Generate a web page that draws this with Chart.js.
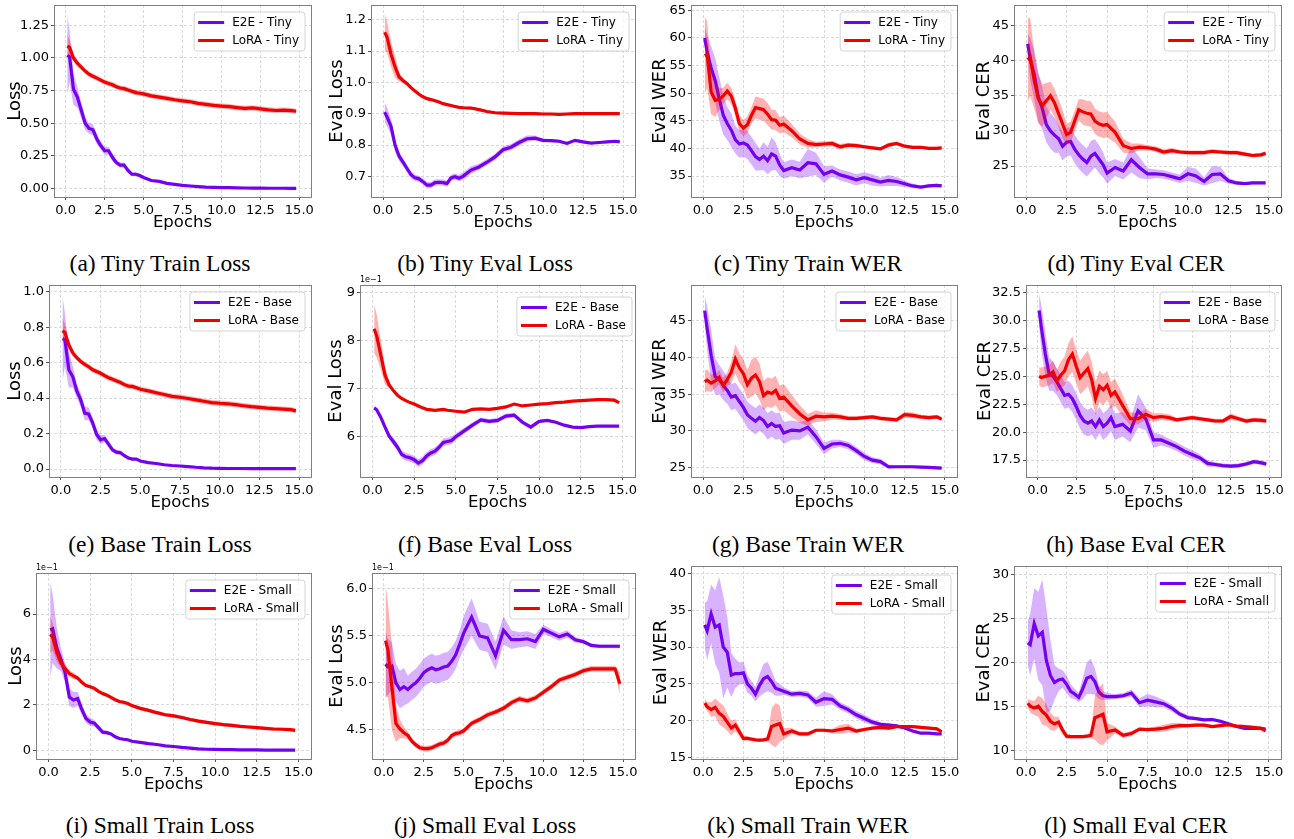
<!DOCTYPE html>
<html>
<head>
<meta charset="utf-8">
<script src="https://cdn.jsdelivr.net/npm/chart.js@4.4.1/dist/chart.umd.min.js"></script>
<style>
  body { margin: 0; background: #fff; width: 1294px; height: 839px; position: relative; overflow: hidden; }
  canvas { position: absolute; }
  .cap { position: absolute; font-family: 'Liberation Serif', 'Times New Roman', serif; font-size: 23.5px;
         line-height: 24px; color: #000; white-space: nowrap; transform: translateX(-50%); }
</style>
</head>
<body>
<script>
// ---- data ----
const epochs = [0.1, 0.25, 0.5, 0.75, 1.0, 1.25, 1.5, 1.75, 2.0, 2.25, 2.5, 2.75, 3.0, 3.25, 3.5, 3.75, 4.0, 4.25, 4.5, 4.75,
  5.0, 5.5, 6.0, 6.5, 7.0, 7.5, 8.0, 8.5, 9.0, 9.5, 10.0, 10.5, 11.0, 11.5, 12.0, 12.5, 13.0, 13.5, 14.0, 14.5, 14.8];
const xTicks = [0, 2.5, 5, 7.5, 10, 12.5, 15];

// Tiny
const tinyTrainE2E = [1.02, 1.01, 0.76, 0.70, 0.60, 0.50, 0.46, 0.45, 0.38, 0.33, 0.29, 0.29, 0.24, 0.20, 0.18, 0.18, 0.14, 0.11, 0.11, 0.10,
  0.085, 0.062, 0.055, 0.04, 0.033, 0.025, 0.02, 0.016, 0.012, 0.01, 0.008, 0.007, 0.006, 0.005, 0.004, 0.004, 0.003, 0.003, 0.003, 0.002, 0.002];
const tinyTrainE2ESd = [0.3, 0.2, 0.12, 0.08, 0.06, 0.05, 0.04, 0.04, 0.04, 0.03, 0.03, 0.03, 0.03, 0.02, 0.02, 0.02, 0.02, 0.015, 0.015, 0.015,
  0.01, 0.008, 0.007, 0.006, 0.005, 0.004, 0.003, 0.003, 0.002, 0.002, 0.002, 0.001, 0.001, 0.001, 0.001, 0.001, 0.001, 0.001, 0.001, 0.001, 0.001];
const tinyTrainLora = [1.09, 1.08, 1.0, 0.96, 0.93, 0.9, 0.875, 0.86, 0.845, 0.83, 0.815, 0.805, 0.795, 0.78, 0.77, 0.765, 0.755, 0.745, 0.735, 0.73,
  0.725, 0.71, 0.70, 0.69, 0.68, 0.672, 0.665, 0.652, 0.645, 0.637, 0.632, 0.627, 0.62, 0.614, 0.618, 0.61, 0.603, 0.598, 0.6, 0.597, 0.592];
const tinyTrainLoraSd = [0.09, 0.06, 0.03, 0.025, 0.02, 0.02, 0.02, 0.02, 0.02, 0.02, 0.02, 0.02, 0.02, 0.02, 0.02, 0.02, 0.02, 0.02, 0.02, 0.02,
  0.02, 0.02, 0.02, 0.02, 0.02, 0.02, 0.02, 0.02, 0.02, 0.02, 0.02, 0.02, 0.02, 0.02, 0.02, 0.02, 0.02, 0.02, 0.02, 0.02, 0.02];

const tinyEvalE2E = [0.905, 0.89, 0.86, 0.80, 0.765, 0.745, 0.725, 0.705, 0.695, 0.692, 0.683, 0.672, 0.672, 0.68, 0.681, 0.68, 0.677, 0.695, 0.699, 0.694,
  0.70, 0.72, 0.73, 0.745, 0.762, 0.785, 0.793, 0.808, 0.82, 0.822, 0.815, 0.814, 0.812, 0.805, 0.815, 0.81, 0.806, 0.808, 0.81, 0.812, 0.81];
const tinyEvalE2ESd = [0.03, 0.03, 0.025, 0.02, 0.015, 0.012, 0.012, 0.012, 0.01, 0.01, 0.01, 0.01, 0.01, 0.01, 0.01, 0.01, 0.01, 0.01, 0.01, 0.01,
  0.012, 0.012, 0.01, 0.01, 0.01, 0.01, 0.01, 0.01, 0.01, 0.008, 0.006, 0.005, 0.005, 0.005, 0.004, 0.004, 0.003, 0.003, 0.003, 0.003, 0.003];
const tinyEvalLora = [1.16, 1.145, 1.09, 1.05, 1.018, 1.006, 0.996, 0.983, 0.972, 0.962, 0.954, 0.948, 0.945, 0.941, 0.937, 0.932, 0.929, 0.926, 0.923, 0.92,
  0.919, 0.918, 0.913, 0.907, 0.903, 0.902, 0.901, 0.9, 0.9, 0.9, 0.899, 0.899, 0.898, 0.899, 0.9, 0.9, 0.9, 0.9, 0.9, 0.9, 0.9];
const tinyEvalLoraSd = [0.06, 0.05, 0.04, 0.035, 0.015, 0.008, 0.006, 0.005, 0.004, 0.004, 0.004, 0.004, 0.004, 0.004, 0.004, 0.004, 0.004, 0.004, 0.004, 0.004,
  0.004, 0.004, 0.004, 0.004, 0.004, 0.004, 0.004, 0.004, 0.004, 0.004, 0.004, 0.004, 0.004, 0.004, 0.004, 0.004, 0.004, 0.004, 0.004, 0.004, 0.004];

const tinyWerE2E = [60.0, 57.5, 54.5, 52.3, 49.0, 46.0, 44.5, 43.3, 41.6, 40.8, 41.0, 40.6, 39.6, 38.5, 38.0, 38.6, 37.8, 39.0, 38.6, 37.0,
  36.0, 36.5, 36.1, 37.4, 37.2, 35.3, 35.9, 35.2, 34.8, 34.3, 34.7, 34.3, 33.9, 34.2, 34.0, 33.6, 33.2, 33.0, 33.2, 33.3, 33.2];
const tinyWerE2ESd = [2, 3, 4, 4, 4, 3.5, 3, 3, 2.5, 2.5, 2.5, 2.5, 2.5, 2.5, 2, 2.5, 2.5, 3, 2.5, 2,
  1.5, 1.5, 1.5, 2.5, 2, 1.5, 1, 1, 1, 1, 1, 1, 0.8, 1, 0.8, 0.6, 0.4, 0.3, 0.3, 0.3, 0.3];
const tinyWerLora = [56.8, 57.0, 50.2, 48.7, 48.9, 49.5, 50.4, 49.5, 47.3, 44.5, 43.7, 44.3, 46.0, 47.4, 47.2, 47.0, 46.2, 45.2, 45.1, 44.2,
  44.4, 43.2, 41.7, 40.9, 40.7, 40.8, 40.9, 40.3, 40.6, 40.5, 40.3, 40.1, 39.9, 40.6, 40.9, 40.4, 40.2, 40.2, 40.0, 40.0, 40.1];
const tinyWerLoraSd = [7, 6, 4, 3, 2, 1.5, 1.5, 1.5, 1.5, 1.5, 1.5, 1.5, 1.5, 2, 2, 2, 2, 1.8, 1.8, 1.5,
  1.5, 1.2, 1, 0.8, 0.5, 0.5, 0.5, 0.5, 0.4, 0.4, 0.3, 0.3, 0.3, 0.4, 0.3, 0.3, 0.3, 0.3, 0.3, 0.3, 0.3];

const tinyCerE2E = [42.4, 40.2, 38.0, 34.8, 33.2, 30.9, 30.0, 29.4, 28.9, 27.8, 28.4, 28.5, 27.4, 26.6, 26.0, 25.5, 26.4, 26.8, 26.0, 25.2,
  24.0, 24.8, 24.3, 25.9, 24.8, 23.9, 23.9, 23.8, 23.5, 23.2, 23.9, 23.6, 22.8, 23.8, 23.9, 22.9, 22.6, 22.5, 22.6, 22.6, 22.6];
const tinyCerE2ESd = [1.5, 3, 3.5, 3.5, 3, 2.5, 2.5, 2.5, 2, 2, 2, 2, 2, 2, 2, 2, 2.2, 2, 2, 1.8,
  1.5, 1.2, 1.2, 1.8, 1.5, 0.8, 0.6, 0.6, 0.6, 0.6, 1, 1, 0.6, 1.2, 1, 0.4, 0.3, 0.2, 0.2, 0.2, 0.2];
const tinyCerLora = [40.1, 40.5, 37.2, 34.6, 33.6, 34.3, 35.0, 34.0, 32.5, 31.0, 29.5, 29.8, 31.4, 33.0, 32.7, 32.5, 32.4, 31.4, 31.0, 30.8,
  30.9, 29.8, 27.9, 27.5, 27.7, 27.6, 27.4, 27.0, 27.2, 27.0, 26.9, 26.9, 26.9, 27.1, 27.0, 26.9, 26.9, 26.7, 26.5, 26.6, 26.8];
const tinyCerLoraSd = [6, 5.5, 4, 3.5, 3, 2.5, 2, 2, 2, 2, 1.5, 1.5, 1.5, 1.5, 1.8, 1.8, 1.8, 1.8, 1.8, 1.8,
  1.8, 1.5, 1, 0.7, 0.5, 0.4, 0.4, 0.4, 0.4, 0.3, 0.3, 0.3, 0.3, 0.3, 0.3, 0.3, 0.3, 0.3, 0.3, 0.3, 0.3];

// Base
const baseTrainE2E = [0.735, 0.73, 0.56, 0.52, 0.44, 0.39, 0.315, 0.31, 0.26, 0.195, 0.165, 0.172, 0.14, 0.108, 0.095, 0.092, 0.075, 0.062, 0.056, 0.056,
  0.045, 0.036, 0.031, 0.024, 0.02, 0.017, 0.014, 0.01, 0.007, 0.005, 0.004, 0.003, 0.003, 0.003, 0.002, 0.002, 0.002, 0.002, 0.002, 0.002, 0.002];
const baseTrainE2ESd = [0.24, 0.15, 0.1, 0.06, 0.04, 0.04, 0.04, 0.035, 0.03, 0.03, 0.025, 0.02, 0.02, 0.015, 0.015, 0.012, 0.01, 0.01, 0.008, 0.007,
  0.006, 0.005, 0.004, 0.003, 0.003, 0.002, 0.002, 0.002, 0.001, 0.001, 0.001, 0.001, 0.001, 0.001, 0.001, 0.001, 0.001, 0.001, 0.001, 0.001, 0.001];
const baseTrainLora = [0.78, 0.77, 0.70, 0.655, 0.628, 0.607, 0.59, 0.577, 0.56, 0.55, 0.54, 0.527, 0.515, 0.506, 0.497, 0.488, 0.476, 0.468, 0.466, 0.458,
  0.45, 0.441, 0.43, 0.42, 0.41, 0.405, 0.398, 0.39, 0.382, 0.375, 0.371, 0.368, 0.363, 0.357, 0.352, 0.348, 0.344, 0.341, 0.338, 0.335, 0.328];
const baseTrainLoraSd = [0.07, 0.05, 0.03, 0.02, 0.015, 0.015, 0.015, 0.015, 0.015, 0.015, 0.015, 0.015, 0.015, 0.015, 0.015, 0.015, 0.015, 0.015, 0.015, 0.015,
  0.015, 0.015, 0.015, 0.015, 0.015, 0.015, 0.015, 0.015, 0.015, 0.015, 0.015, 0.015, 0.015, 0.015, 0.015, 0.015, 0.015, 0.015, 0.015, 0.015, 0.015];

const baseEvalE2E = [0.660, 0.656, 0.640, 0.620, 0.601, 0.590, 0.578, 0.563, 0.558, 0.556, 0.552, 0.545, 0.550, 0.560, 0.566, 0.570, 0.578, 0.588, 0.590, 0.592,
  0.600, 0.612, 0.624, 0.635, 0.632, 0.634, 0.643, 0.645, 0.630, 0.620, 0.632, 0.634, 0.630, 0.624, 0.620, 0.619, 0.621, 0.622, 0.622, 0.622, 0.622];
const baseEvalE2ESd = [0.004, 0.004, 0.005, 0.006, 0.007, 0.008, 0.008, 0.008, 0.008, 0.008, 0.008, 0.008, 0.008, 0.008, 0.008, 0.008, 0.008, 0.008, 0.008, 0.008,
  0.007, 0.006, 0.006, 0.005, 0.005, 0.005, 0.005, 0.005, 0.005, 0.005, 0.003, 0.003, 0.002, 0.002, 0.002, 0.002, 0.002, 0.002, 0.002, 0.002, 0.002];
const baseEvalLora = [0.825, 0.81, 0.77, 0.728, 0.708, 0.696, 0.686, 0.680, 0.675, 0.671, 0.668, 0.664, 0.660, 0.657, 0.656, 0.655, 0.656, 0.657, 0.655, 0.654,
  0.653, 0.651, 0.657, 0.658, 0.657, 0.659, 0.662, 0.668, 0.664, 0.666, 0.668, 0.669, 0.671, 0.672, 0.674, 0.675, 0.676, 0.677, 0.677, 0.676, 0.671];
const baseEvalLoraSd = [0.05, 0.045, 0.03, 0.02, 0.006, 0.003, 0.002, 0.002, 0.002, 0.002, 0.002, 0.002, 0.002, 0.002, 0.002, 0.002, 0.002, 0.002, 0.002, 0.002,
  0.002, 0.002, 0.002, 0.002, 0.002, 0.002, 0.002, 0.002, 0.002, 0.002, 0.002, 0.002, 0.002, 0.002, 0.002, 0.002, 0.002, 0.002, 0.002, 0.002, 0.002];

const baseWerE2E = [46.4, 44.0, 40.3, 37.4, 37.0, 36.2, 35.5, 34.6, 34.8, 34.0, 33.2, 32.2, 31.7, 31.3, 31.8, 31.4, 30.6, 31.0, 30.6, 30.7,
  29.7, 30.1, 30.0, 30.5, 29.2, 27.6, 28.2, 28.3, 28.0, 27.3, 26.5, 26.0, 25.8, 25.1, 25.1, 25.1, 25.1, 25.05, 25.0, 24.95, 24.9];
const baseWerE2ESd = [2, 3, 3.5, 2.5, 2, 2, 1.8, 1.8, 1.8, 1.8, 1.8, 1.8, 1.8, 1.8, 1.8, 1.8, 1.8, 1.8, 1.8, 1.8,
  1.5, 1.3, 1.2, 1, 1, 0.8, 0.6, 0.5, 0.5, 0.5, 0.5, 0.4, 0.4, 0.3, 0.2, 0.2, 0.2, 0.2, 0.2, 0.2, 0.2];
const baseWerLora = [36.7, 36.9, 36.5, 36.8, 37.3, 36.2, 37.0, 38.0, 39.8, 38.6, 37.8, 36.3, 37.2, 37.6, 36.7, 34.8, 35.3, 35.1, 35.5, 34.4,
  34.6, 33.4, 32.3, 31.5, 32.0, 31.9, 32.0, 31.9, 31.7, 31.7, 31.8, 31.9, 31.7, 31.6, 31.5, 32.2, 32.1, 31.9, 31.8, 31.9, 31.6];
const baseWerLoraSd = [1.5, 1.5, 1.2, 1, 1, 1, 1, 1.5, 2, 2, 2, 2, 2.5, 2.5, 2.5, 2, 2, 2, 2, 1.8,
  1.8, 1.5, 1.2, 0.8, 0.8, 0.6, 0.5, 0.4, 0.3, 0.3, 0.3, 0.3, 0.3, 0.3, 0.3, 0.4, 0.4, 0.3, 0.3, 0.3, 0.3];

const baseCerE2E = [30.9, 29.3, 27.0, 25.2, 25.0, 24.5, 23.9, 23.3, 23.4, 23.0, 22.3, 21.5, 21.0, 20.8, 21.0, 20.5, 21.1, 20.5, 20.8, 21.3,
  20.5, 20.7, 20.1, 21.9, 21.2, 19.3, 19.3, 19.0, 18.7, 18.3, 18.0, 17.7, 17.2, 17.1, 17.0, 16.95, 17.0, 17.15, 17.35, 17.25, 17.15];
const baseCerE2ESd = [1.5, 2, 2, 1.5, 1.3, 1.2, 1.2, 1.2, 1.2, 1.2, 1.2, 1.2, 1.2, 1.2, 1.2, 1.2, 1.2, 1.2, 1.2, 1.2,
  1.2, 1.1, 1, 1.5, 1, 0.7, 0.5, 0.4, 0.4, 0.4, 0.4, 0.3, 0.3, 0.2, 0.2, 0.2, 0.2, 0.2, 0.2, 0.2, 0.2];
const baseCerLora = [25.0, 24.9, 25.0, 25.1, 25.4, 24.6, 25.1, 25.5, 26.5, 27.0, 25.9, 24.9, 25.3, 25.7, 24.7, 23.0, 24.1, 23.8, 24.2, 23.3,
  23.6, 22.4, 21.2, 21.2, 21.6, 21.3, 21.4, 21.3, 21.1, 21.2, 21.3, 21.2, 21.1, 21.0, 21.0, 21.4, 21.2, 21.0, 21.1, 21.05, 21.0];
const baseCerLoraSd = [0.8, 0.9, 0.9, 0.9, 1, 1, 1.2, 1.3, 1.5, 1.6, 1.5, 1.5, 1.6, 1.6, 1.6, 1.5, 1.4, 1.4, 1.3, 1.2,
  1.2, 1, 0.6, 0.5, 0.5, 0.4, 0.3, 0.3, 0.2, 0.2, 0.2, 0.2, 0.2, 0.2, 0.2, 0.3, 0.2, 0.2, 0.2, 0.2, 0.2];

// Small
const smallTrainE2E = [0.530, 0.535, 0.45, 0.40, 0.34, 0.235, 0.222, 0.228, 0.18, 0.14, 0.125, 0.12, 0.10, 0.08, 0.078, 0.072, 0.06, 0.052, 0.049, 0.047,
  0.04, 0.035, 0.03, 0.026, 0.02, 0.017, 0.013, 0.01, 0.007, 0.005, 0.004, 0.003, 0.003, 0.002, 0.002, 0.002, 0.001, 0.001, 0.001, 0.001, 0.001];
const smallTrainE2ESd = [0.21, 0.15, 0.09, 0.05, 0.04, 0.04, 0.035, 0.03, 0.025, 0.02, 0.018, 0.015, 0.012, 0.01, 0.008, 0.007, 0.006, 0.005, 0.005, 0.004,
  0.004, 0.003, 0.003, 0.002, 0.002, 0.002, 0.001, 0.001, 0.001, 0.001, 0.001, 0.001, 0.001, 0.001, 0.001, 0.001, 0.001, 0.001, 0.001, 0.001, 0.001];
const smallTrainLora = [0.510, 0.50, 0.43, 0.385, 0.36, 0.338, 0.328, 0.318, 0.30, 0.285, 0.28, 0.273, 0.26, 0.25, 0.243, 0.233, 0.223, 0.215, 0.212, 0.206,
  0.197, 0.185, 0.176, 0.166, 0.157, 0.152, 0.145, 0.136, 0.129, 0.123, 0.118, 0.113, 0.11, 0.106, 0.103, 0.10, 0.097, 0.094, 0.093, 0.091, 0.088];
const smallTrainLoraSd = [0.08, 0.06, 0.04, 0.025, 0.02, 0.015, 0.015, 0.008, 0.008, 0.008, 0.008, 0.008, 0.008, 0.008, 0.008, 0.008, 0.008, 0.008, 0.008, 0.008,
  0.008, 0.008, 0.008, 0.008, 0.008, 0.008, 0.008, 0.008, 0.008, 0.008, 0.008, 0.008, 0.008, 0.008, 0.008, 0.008, 0.008, 0.008, 0.008, 0.008, 0.008];

const smallEvalE2E = [0.520, 0.517, 0.518, 0.50, 0.493, 0.496, 0.493, 0.497, 0.50, 0.505, 0.511, 0.514, 0.516, 0.514, 0.515, 0.517, 0.518, 0.523, 0.53, 0.541,
  0.553, 0.570, 0.55, 0.548, 0.529, 0.556, 0.546, 0.546, 0.547, 0.544, 0.557, 0.553, 0.549, 0.552, 0.546, 0.544, 0.540, 0.539, 0.539, 0.539, 0.539];
const smallEvalE2ESd = [0.035, 0.03, 0.025, 0.02, 0.02, 0.02, 0.015, 0.015, 0.015, 0.015, 0.015, 0.015, 0.015, 0.015, 0.015, 0.015, 0.015, 0.015, 0.015, 0.015,
  0.018, 0.02, 0.015, 0.015, 0.015, 0.015, 0.01, 0.008, 0.008, 0.008, 0.005, 0.004, 0.004, 0.004, 0.003, 0.002, 0.002, 0.002, 0.002, 0.002, 0.002];
const smallEvalLora = [0.545, 0.535, 0.495, 0.457, 0.451, 0.447, 0.444, 0.438, 0.434, 0.431, 0.430, 0.430, 0.431, 0.433, 0.435, 0.436, 0.439, 0.444, 0.446, 0.447,
  0.449, 0.457, 0.461, 0.466, 0.469, 0.473, 0.479, 0.483, 0.481, 0.484, 0.490, 0.496, 0.503, 0.506, 0.509, 0.513, 0.515, 0.515, 0.515, 0.515, 0.499];
const smallEvalLoraSd = [0.06, 0.05, 0.045, 0.02, 0.01, 0.006, 0.004, 0.003, 0.003, 0.003, 0.003, 0.003, 0.003, 0.003, 0.003, 0.003, 0.003, 0.003, 0.003, 0.003,
  0.003, 0.003, 0.003, 0.003, 0.003, 0.003, 0.003, 0.003, 0.003, 0.003, 0.003, 0.003, 0.003, 0.003, 0.003, 0.003, 0.003, 0.003, 0.003, 0.003, 0.012];

const smallWerE2E = [33.0, 32.2, 34.5, 32.7, 33.0, 30.0, 29.3, 26.2, 26.4, 26.4, 26.5, 25.0, 24.4, 23.6, 24.8, 25.7, 26.0, 25.3, 24.4, 24.2,
  24.0, 23.6, 23.7, 23.5, 22.5, 23.0, 22.9, 22.0, 21.5, 20.8, 20.3, 19.8, 19.5, 19.4, 19.3, 19.0, 18.6, 18.3, 18.3, 18.2, 18.2];
const smallWerE2ESd = [3, 4, 4, 5, 6.5, 7, 4.8, 3, 2, 1.5, 1.5, 1.2, 1, 1, 1.5, 2, 2, 1.5, 1, 0.8,
  0.5, 0.4, 0.4, 0.5, 0.6, 1, 0.7, 0.5, 0.5, 0.5, 0.5, 0.4, 0.3, 0.3, 0.2, 0.2, 0.2, 0.2, 0.1, 0.1, 0.1];
const smallWerLora = [22.4, 21.9, 21.5, 21.8, 21.0, 20.6, 19.8, 19.0, 19.4, 18.5, 17.6, 17.6, 17.5, 17.4, 17.35, 17.4, 17.5, 19.2, 19.4, 19.6,
  18.2, 18.6, 18.2, 18.2, 18.7, 18.7, 18.6, 18.8, 19.0, 18.6, 18.8, 19.0, 19.1, 19.0, 19.2, 19.2, 19.2, 19.1, 19.0, 18.9, 18.5];
const smallWerLoraSd = [0.6, 0.6, 1, 1.2, 1.5, 1.5, 1.2, 1, 0.8, 0.6, 0.4, 0.3, 0.2, 0.2, 0.2, 0.2, 0.3, 2.5, 3, 2.5,
  0.8, 0.4, 0.3, 0.3, 0.2, 0.2, 0.3, 0.6, 0.6, 0.3, 0.2, 0.2, 0.3, 0.3, 0.2, 0.2, 0.2, 0.2, 0.2, 0.2, 0.2];

const smallCerE2E = [22.2, 22.0, 24.4, 23.0, 23.4, 20.2, 18.5, 17.7, 18.0, 18.1, 17.5, 16.7, 16.4, 16.0, 17.0, 18.2, 18.4, 17.8, 16.6, 16.2,
  16.1, 16.1, 16.2, 16.5, 15.4, 15.7, 15.5, 15.3, 14.8, 14.1, 13.7, 13.6, 13.45, 13.5, 13.3, 13.0, 12.7, 12.5, 12.5, 12.5, 12.4];
const smallCerE2ESd = [2.5, 3.5, 4, 5, 6, 6, 4, 2, 1.3, 1, 1, 0.8, 0.6, 0.5, 1.2, 1.8, 2, 1.5, 0.8, 0.5,
  0.4, 0.3, 0.3, 0.4, 0.5, 0.7, 0.6, 0.4, 0.4, 0.3, 0.3, 0.2, 0.2, 0.2, 0.2, 0.15, 0.1, 0.1, 0.1, 0.1, 0.1];
const smallCerLora = [15.35, 15.0, 14.8, 15.0, 14.4, 14.0, 13.3, 13.0, 13.2, 12.3, 11.6, 11.55, 11.55, 11.55, 11.55, 11.6, 11.7, 13.7, 13.9, 14.1,
  12.1, 12.3, 11.7, 11.9, 12.4, 12.35, 12.4, 12.5, 12.7, 12.8, 12.8, 12.85, 12.85, 12.7, 12.8, 12.9, 12.75, 12.7, 12.6, 12.5, 12.2];
const smallCerLoraSd = [0.5, 0.7, 0.8, 1.2, 1.5, 1.2, 1, 0.8, 0.6, 0.5, 0.3, 0.2, 0.2, 0.2, 0.2, 0.2, 0.3, 2.5, 3.2, 3.5,
  1, 0.4, 0.3, 0.3, 0.2, 0.2, 0.3, 0.4, 0.4, 0.3, 0.2, 0.2, 0.2, 0.2, 0.2, 0.2, 0.2, 0.2, 0.2, 0.2, 0.2];

// tick labels
const tinyTrainTicks = [0, 0.25, 0.5, 0.75, 1.0, 1.25];
const tinyEvalTicks = [0.7, 0.8, 0.9, 1.0, 1.1, 1.2];
const tinyWerTicks = [35, 40, 45, 50, 55, 60, 65];
const tinyCerTicks = [25, 30, 35, 40, 45];
const baseTrainTicks = [0, 0.2, 0.4, 0.6, 0.8, 1.0];
const baseEvalTicks = [0.6, 0.7, 0.8, 0.9];
const baseWerTicks = [25, 30, 35, 40, 45];
const baseCerTicks = [17.5, 20, 22.5, 25, 27.5, 30, 32.5];
const smallTrainTicks = [0, 0.2, 0.4, 0.6];
const smallEvalTicks = [0.45, 0.5, 0.55, 0.6];
const smallWerTicks = [15, 20, 25, 30, 35, 40];
const smallCerTicks = [10, 15, 20, 25, 30];

// ---- styling ----
const PURPLE = '#7400f0', PURPLE_BAND = 'rgba(127,0,255,0.3)';
const RED = '#f00000', RED_BAND = 'rgba(255,0,0,0.3)';
const GRID = '#dadada';
const FONT = 'DejaVu Sans';

const f2 = v => v.toFixed(2), f1 = v => v.toFixed(1), f0 = v => v.toFixed(0);
const x10 = v => (v * 10).toFixed(0), x10f1 = v => (v * 10).toFixed(1);

// geo: [canvasLeft, boxLeft, boxRight, boxTop, boxBottom]
const panels = [
  { cap: '(a) Tiny Train Loss', yTitle: 'Loss', size: 'Tiny', e2e: tinyTrainE2E, e2eSd: tinyTrainE2ESd, lora: tinyTrainLora, loraSd: tinyTrainLoraSd,
    ticks: tinyTrainTicks, yMin: -0.064, yMax: 1.405, fmt: f2, geo: [0, 54, 311, 5, 197], cx: 160, cy: 263 },
  { cap: '(b) Tiny Eval Loss', yTitle: 'Eval Loss', size: 'Tiny', e2e: tinyEvalE2E, e2eSd: tinyEvalE2ESd, lora: tinyEvalLora, loraSd: tinyEvalLoraSd,
    ticks: tinyEvalTicks, yMin: 0.634, yMax: 1.247, fmt: f1, geo: [322, 371, 635, 5, 197], cx: 485, cy: 263 },
  { cap: '(c) Tiny Train WER', yTitle: 'Eval WER', size: 'Tiny', e2e: tinyWerE2E, e2eSd: tinyWerE2ESd, lora: tinyWerLora, loraSd: tinyWerLoraSd,
    ticks: tinyWerTicks, yMin: 31.2, yMax: 65.96, fmt: f0, geo: [645, 691, 957, 5, 197], cx: 808, cy: 263 },
  { cap: '(d) Tiny Eval CER', yTitle: 'Eval CER', size: 'Tiny', e2e: tinyCerE2E, e2eSd: tinyCerE2ESd, lora: tinyCerLora, loraSd: tinyCerLoraSd,
    ticks: tinyCerTicks, yMin: 20.6, yMax: 47.9, fmt: f0, geo: [969, 1014, 1281, 5, 197], cx: 1136, cy: 263 },
  { cap: '(e) Base Train Loss', yTitle: 'Loss', size: 'Base', e2e: baseTrainE2E, e2eSd: baseTrainE2ESd, lora: baseTrainLora, loraSd: baseTrainLoraSd,
    ticks: baseTrainTicks, yMin: -0.045, yMax: 1.038, fmt: f1, geo: [0, 49, 311, 285, 477], cx: 160, cy: 544 },
  { cap: '(f) Base Eval Loss', yTitle: 'Eval Loss', size: 'Base', e2e: baseEvalE2E, e2eSd: baseEvalE2ESd, lora: baseEvalLora, loraSd: baseEvalLoraSd,
    ticks: baseEvalTicks, yMin: 0.516, yMax: 0.916, fmt: x10, sci: true, legTop: 12, legRight: 3, geo: [321, 360, 635, 285, 477], cx: 485, cy: 544 },
  { cap: '(g) Base Train WER', yTitle: 'Eval WER', size: 'Base', e2e: baseWerE2E, e2eSd: baseWerE2ESd, lora: baseWerLora, loraSd: baseWerLoraSd,
    ticks: baseWerTicks, yMin: 23.7, yMax: 49.9, fmt: f0, geo: [645, 691, 957, 285, 477], cx: 808, cy: 544 },
  { cap: '(h) Base Eval CER', yTitle: 'Eval CER', size: 'Base', e2e: baseCerE2E, e2eSd: baseCerE2ESd, lora: baseCerLora, loraSd: baseCerLoraSd,
    ticks: baseCerTicks, yMin: 15.98, yMax: 33.19, fmt: f1, geo: [970, 1026, 1281, 285, 477], cx: 1136, cy: 544 },
  { cap: '(i) Small Train Loss', yTitle: 'Loss', size: 'Small', e2e: smallTrainE2E, e2eSd: smallTrainE2ESd, lora: smallTrainLora, loraSd: smallTrainLoraSd,
    ticks: smallTrainTicks, yMin: -0.038, yMax: 0.781, fmt: x10, sci: true, geo: [1, 36, 311, 573, 759], cx: 160, cy: 825 },
  { cap: '(j) Small Eval Loss', yTitle: 'Eval Loss', size: 'Small', e2e: smallEvalE2E, e2eSd: smallEvalE2ESd, lora: smallEvalLora, loraSd: smallEvalLoraSd,
    ticks: smallEvalTicks, yMin: 0.419, yMax: 0.617, fmt: x10f1, sci: true, geo: [322, 372, 635, 573, 759], cx: 485, cy: 825 },
  { cap: '(k) Small Train WER', yTitle: 'Eval WER', size: 'Small', e2e: smallWerE2E, e2eSd: smallWerE2ESd, lora: smallWerLora, loraSd: smallWerLoraSd,
    ticks: smallWerTicks, yMin: 14.8, yMax: 41.0, fmt: f0, legTop: 9, geo: [646, 691, 957, 566, 759], cx: 808, cy: 825 },
  { cap: '(l) Small Eval CER', yTitle: 'Eval CER', size: 'Small', e2e: smallCerE2E, e2eSd: smallCerE2ESd, lora: smallCerLora, loraSd: smallCerLoraSd,
    ticks: smallCerTicks, yMin: 9.01, yMax: 30.94, fmt: f0, geo: [969, 1014, 1281, 566, 759], cx: 1136, cy: 825 }
];

const PAD_TOP = 14, PAD_RIGHT = 10, X_AXIS_H = 36;

function pts(arr) { return arr.map((v, i) => ({ x: epochs[i], y: v })); }
function band(m, s, sign) { return m.map((v, i) => ({ x: epochs[i], y: v + sign * s[i] })); }

// frame, inside legend and matplotlib-style offset text
const decor = {
  id: 'decor',
  afterDraw(chart, args, opts) {
    const p = opts.panel, a = chart.chartArea, ctx = chart.ctx;
    ctx.save();
    ctx.strokeStyle = '#808080'; ctx.lineWidth = 1;
    ctx.strokeRect(Math.round(a.left) + 0.5, Math.round(a.top) + 0.5, Math.round(a.right - a.left), Math.round(a.bottom - a.top));

    if (p.sci) {
      ctx.fillStyle = '#000'; ctx.font = '8px "' + FONT + '"';
      ctx.textAlign = 'left'; ctx.textBaseline = 'bottom';
      ctx.fillText('1e\u22121', a.left, a.top - 1);
    }

    const names = ['E2E - ' + p.size, 'LoRA - ' + p.size];
    const cols = [PURPLE, RED];
    ctx.font = '12px "' + FONT + '"';
    const tw = Math.max(...names.map(n => ctx.measureText(n).width));
    const w = 4 + 26 + 8 + tw + 6, h = 39;
    const x = a.right - (p.legRight || 6) - w, y = a.top + (p.legTop || 7);
    const r = 3;
    ctx.beginPath();
    ctx.moveTo(x + r, y); ctx.lineTo(x + w - r, y); ctx.arcTo(x + w, y, x + w, y + r, r);
    ctx.lineTo(x + w, y + h - r); ctx.arcTo(x + w, y + h, x + w - r, y + h, r);
    ctx.lineTo(x + r, y + h); ctx.arcTo(x, y + h, x, y + h - r, r);
    ctx.lineTo(x, y + r); ctx.arcTo(x, y, x + r, y, r); ctx.closePath();
    ctx.fillStyle = 'rgba(255,255,255,0.8)'; ctx.fill();
    ctx.strokeStyle = '#d4d4d4'; ctx.lineWidth = 1; ctx.stroke();
    names.forEach((n, i) => {
      const cy = y + 10.5 + i * 18;
      ctx.strokeStyle = cols[i]; ctx.lineWidth = 3;
      ctx.beginPath(); ctx.moveTo(x + 4, cy); ctx.lineTo(x + 30, cy); ctx.stroke();
      ctx.fillStyle = '#000'; ctx.textAlign = 'left'; ctx.textBaseline = 'middle';
      ctx.fillText(n, x + 38, cy + 0.5);
    });
    ctx.restore();
  }
};

panels.forEach(p => {
  const [cl, bl, br, bt, bb] = p.geo;
  const top = bt - PAD_TOP;
  const W = br + PAD_RIGHT - cl, H = bb + X_AXIS_H - top;
  const cv = document.createElement('canvas');
  cv.width = W; cv.height = H;
  cv.style.left = cl + 'px'; cv.style.top = top + 'px';
  cv.style.width = W + 'px'; cv.style.height = H + 'px';
  document.body.appendChild(cv);

  const cap = document.createElement('div');
  cap.className = 'cap';
  cap.textContent = p.cap;
  cap.style.left = p.cx + 'px';
  cap.style.top = (p.cy - 12) + 'px';
  document.body.appendChild(cap);

  const line = { pointRadius: 0, borderWidth: 3.2, fill: false, tension: 0 };
  const edge = { pointRadius: 0, borderWidth: 1, borderColor: 'rgba(0,0,0,0)', tension: 0 };

  new Chart(cv, {
    type: 'line',
    data: {
      datasets: [
        { ...line, data: pts(p.lora), borderColor: RED },
        { ...edge, data: band(p.lora, p.loraSd, 1), fill: false },
        { ...edge, data: band(p.lora, p.loraSd, -1), fill: 1, backgroundColor: RED_BAND },
        { ...line, data: pts(p.e2e), borderColor: PURPLE },
        { ...edge, data: band(p.e2e, p.e2eSd, 1), fill: false },
        { ...edge, data: band(p.e2e, p.e2eSd, -1), fill: 4, backgroundColor: PURPLE_BAND }
      ]
    },
    options: {
      responsive: false,
      animation: false,
      devicePixelRatio: 1,
      layout: { padding: { top: PAD_TOP, right: PAD_RIGHT, left: 0, bottom: 0 } },
      plugins: { legend: { display: false }, tooltip: { enabled: false }, decor: { panel: p } },
      scales: {
        x: {
          type: 'linear', min: -0.75, max: 15.75,
          afterBuildTicks: s => { s.ticks = xTicks.map(v => ({ value: v })); },
          afterFit: s => { s.height = X_AXIS_H; },
          ticks: { callback: v => v.toFixed(1), font: { family: FONT, size: 13 }, color: '#000', padding: 2.5, maxRotation: 0, autoSkip: false },
          grid: { color: GRID, lineWidth: 1, tickColor: '#555', tickLength: 3 },
          border: { display: false, dash: [3, 2] },
          title: { display: true, text: 'Epochs', color: '#000', font: { family: FONT, size: 16.5, lineHeight: 1.2 }, padding: { top: 0, bottom: 0 } }
        },
        y: {
          type: 'linear', min: p.yMin, max: p.yMax,
          afterBuildTicks: s => { s.ticks = p.ticks.map(v => ({ value: v })); },
          afterFit: s => { s.width = bl - cl; },
          ticks: { callback: v => p.fmt(v), font: { family: FONT, size: 13 }, color: '#000', padding: 2 },
          grid: { color: GRID, lineWidth: 1, tickColor: '#555', tickLength: 3 },
          border: { display: false, dash: [3, 2] },
          title: { display: true, text: p.yTitle, color: '#000', font: { family: FONT, size: 18, lineHeight: 1.2 }, padding: { top: 4.2, bottom: 0 } }
        }
      }
    },
    plugins: [decor]
  });
});
</script>
</body>
</html>
